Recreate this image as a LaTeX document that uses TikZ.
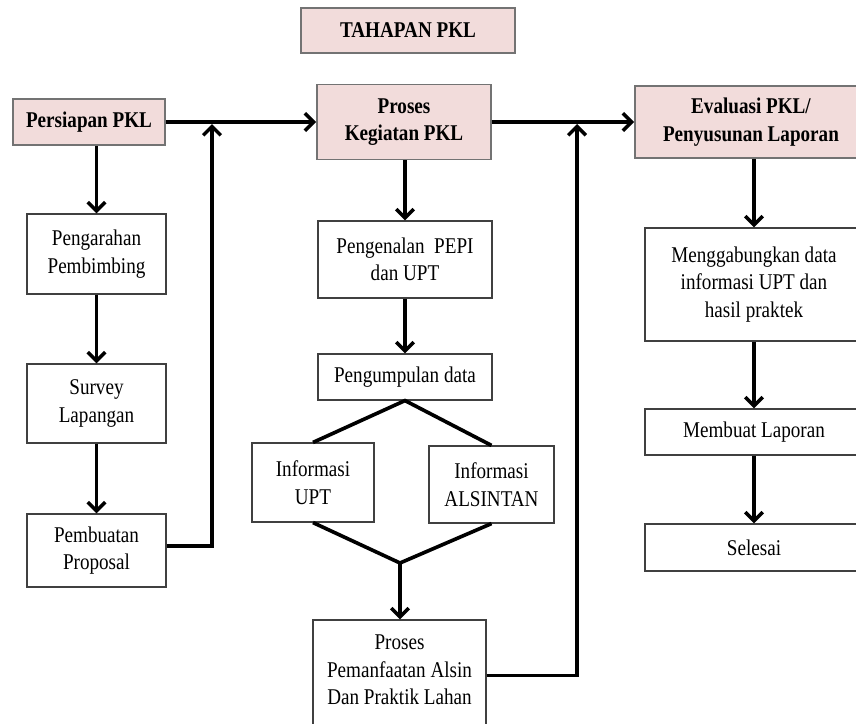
\documentclass[tikz,border=0pt]{standalone}
\usepackage{fontspec}
\setmainfont[FakeStretch=0.85]{Liberation Serif}
\usetikzlibrary{arrows.meta}
\definecolor{stagepink}{HTML}{F2DCDB}
\tikzset{%
    basebox/.style={draw=black!75, line width=0.8pt, align=center, inner sep=2pt, font=\fontsize{16pt}{19.6pt}\selectfont},
    stagebox/.style={basebox, fill=stagepink, draw=black!55, line width=1.2pt, font=\fontsize{16pt}{19.6pt}\selectfont\bfseries},
    stepbox/.style={basebox, fill=white},
    flow/.style={->, line width=2.5pt},
    branch/.style={line width=2.6pt},
    %my thin box/.style={thin,color=gray}
}
\begin{document}
\begin{tikzpicture}[x=0.025cm, y=-0.025cm, >={Straight Barb[length=2.2mm, width=4.4mm]}]

	\useasboundingbox (0,0) rectangle (856,724);

	% stages
	\node[stagebox, minimum width=5.35cm, minimum height=1.125cm] (title) at (408,30.5) {TAHAPAN PKL};
	\node[stagebox, minimum width=3.8cm, minimum height=1.15cm] (persiapan) at (89,122) {Persiapan PKL};
	\node[stagebox, minimum width=4.35cm, minimum height=1.875cm] (proses) at (404,122) {Proses\\Kegiatan PKL};
	\node[stagebox, minimum width=5.8cm, minimum height=1.8cm] (evaluasi) at (751,122) {Evaluasi PKL/\\Penyusunan Laporan};

	% left column
	\node[stepbox, minimum width=3.475cm, minimum height=2cm] (pengarahan) at (96.5,254) {Pengarahan\\Pembimbing};
	\node[stepbox, minimum width=3.475cm, minimum height=1.975cm] (survey) at (96.5,403.5) {Survey\\Lapangan};
	\node[stepbox, minimum width=3.475cm, minimum height=1.825cm] (pembuatan) at (96.5,550.5) {Pembuatan\\Proposal};

	% middle column
	\node[stepbox, minimum width=4.35cm, minimum height=1.925cm] (pengenalan) at (405,259.5) {Pengenalan\ \ PEPI\\dan UPT};
	\node[stepbox, minimum width=4.35cm, minimum height=1.15cm] (pengumpulan) at (405,377) {Pengumpulan data};
	\node[stepbox, minimum width=3.05cm, minimum height=1.975cm] (infoupt) at (313,482.5) {Informasi\\UPT};
	\node[stepbox, minimum width=3.125cm, minimum height=1.925cm] (infoalsin) at (491.5,484.5) {Informasi\\ALSINTAN};
	\node[stepbox, minimum width=4.325cm, minimum height=3.175cm] (pemanfaatan) at (399.5,683.5) {Proses\\Pemanfaatan Alsin\\Dan Praktik Lahan\\\mbox{}};

	% right column
	\node[stepbox, minimum width=5.45cm, minimum height=2.825cm] (menggabungkan) at (754,284.5) {Menggabungkan data\\informasi UPT dan\\hasil praktek};
	\node[stepbox, minimum width=5.45cm, minimum height=1.15cm] (membuat) at (754,432) {Membuat Laporan};
	\node[stepbox, minimum width=5.45cm, minimum height=1.175cm] (selesai) at (754,547.5) {Selesai};

	% joints
	\coordinate (j1) at (212,124);
	\coordinate (j2) at (577,124);
	\coordinate (merge) at (400,563);

	% main line
	\draw[flow] (persiapan) -- (proses);
	\draw[flow] (proses) -- (evaluasi);

	% left flow
	\draw[flow] (persiapan.south -| pengarahan.north) -- (pengarahan);
	\draw[flow] (pengarahan) -- (survey);
	\draw[flow] (survey) -- (pembuatan);
	\draw[flow] ([yshift=0.11cm]pembuatan.east) -| (j1);

	% middle flow
	\draw[flow] (proses.south -| pengenalan.north) -- (pengenalan);
	\draw[flow] (pengenalan) -- (pengumpulan);
	\draw[branch] (infoupt.north) -- (pengumpulan.south) -- (infoalsin.north);
	\draw[branch] (infoupt.south) -- (merge) -- (infoalsin.south);
	\draw[flow] (merge) -- (merge |- pemanfaatan.north);
	\draw[flow] ([yshift=0.2cm]pemanfaatan.east) -| (j2);

	% right flow
	\draw[flow] (evaluasi.south -| menggabungkan.north) -- (menggabungkan);
	\draw[flow] (menggabungkan) -- (membuat);
	\draw[flow] (membuat) -- (selesai);

\end{tikzpicture}
\end{document}
